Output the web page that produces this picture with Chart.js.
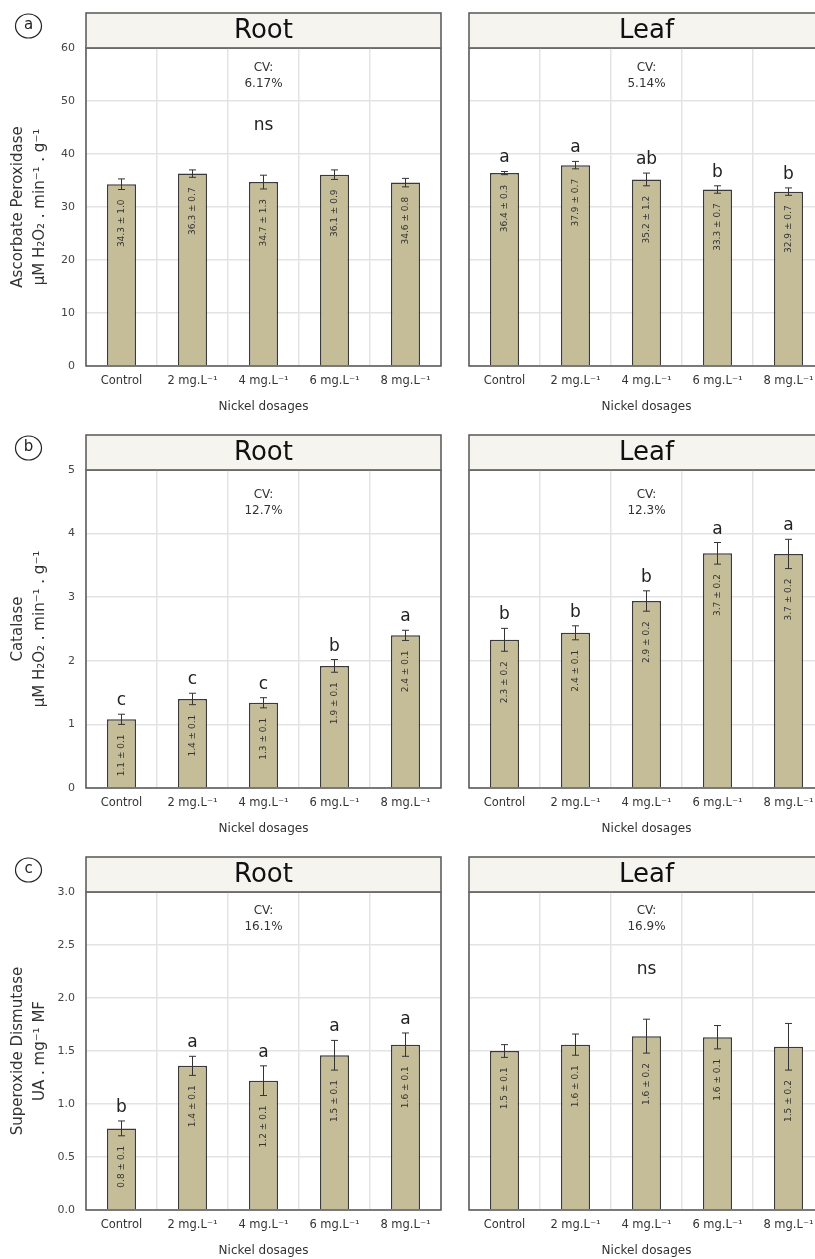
<!DOCTYPE html>
<html>
<head>
<meta charset="utf-8">
<script src="https://cdn.jsdelivr.net/npm/chart.js@4.4.1/dist/chart.umd.min.js"></script>
<style>
  html, body { margin: 0; padding: 0; background: #fff; overflow: hidden; }
  #wrap { position: relative; width: 815px; height: 1259px; overflow: hidden; background: #fff; }
  #wrap canvas { position: absolute; }
</style>
</head>
<body>
<div id="wrap"></div>
<script>
// ---- data ----
const categories = ['Control', '2 mg.L\u207B\u00B9', '4 mg.L\u207B\u00B9', '6 mg.L\u207B\u00B9', '8 mg.L\u207B\u00B9'];

// (a) Ascorbate peroxidase
const apxRootMean = [34.3, 36.3, 34.7, 36.1, 34.6];
const apxRootSd   = [1.0, 0.7, 1.3, 0.9, 0.8];
const apxLeafMean = [36.4, 37.9, 35.2, 33.3, 32.9];
const apxLeafSd   = [0.3, 0.7, 1.2, 0.7, 0.7];
const apxLeafLetters = ['a', 'a', 'ab', 'b', 'b'];
const apxCV = ['6.17%', '5.14%'];
const apxTicks = [0, 10, 20, 30, 40, 50, 60];

// (b) Catalase
const catRootMean = [1.08, 1.40, 1.34, 1.92, 2.40];
const catRootSd   = [0.08, 0.09, 0.08, 0.10, 0.08];
const catRootLetters = ['c', 'c', 'c', 'b', 'a'];
const catLeafMean = [2.33, 2.44, 2.94, 3.69, 3.68];
const catLeafSd   = [0.18, 0.11, 0.16, 0.17, 0.23];
const catLeafLetters = ['b', 'b', 'b', 'a', 'a'];
const catCV = ['12.7%', '12.3%'];
const catTicks = [0, 1, 2, 3, 4, 5];

// (c) Superoxide dismutase
const sodRootMean = [0.77, 1.36, 1.22, 1.46, 1.56];
const sodRootSd   = [0.07, 0.09, 0.14, 0.14, 0.11];
const sodRootLetters = ['b', 'a', 'a', 'a', 'a'];
const sodLeafMean = [1.50, 1.56, 1.64, 1.63, 1.54];
const sodLeafSd   = [0.06, 0.10, 0.16, 0.11, 0.22];
const sodCV = ['16.1%', '16.9%'];
const sodTicks = [0, 0.5, 1.0, 1.5, 2.0, 2.5, 3.0];

const tissues = ['Root', 'Leaf'];
const xTitle = 'Nickel dosages';
const apxTitle = ['Ascorbate Peroxidase', '\u03BCM H\u2082O\u2082 . min\u207B\u00B9 . g\u207B\u00B9'];
const catTitle = ['Catalase', '\u03BCM H\u2082O\u2082 . min\u207B\u00B9 . g\u207B\u00B9'];
const sodTitle = ['Superoxide Dismutase', 'UA . mg\u207B\u00B9 MF'];

// ---- styling ----
const FONT = "'DejaVu Sans', 'Noto Sans', sans-serif";
const BAR = '#c5bd97';
const GRID = '#e3e3e3';
const FRAME = '#555555';

// Header strip, frame, error bars, value labels, group letters and CV text
const panelDecor = {
  id: 'panelDecor',
  beforeDraw(chart, args, o) {
    const { ctx, chartArea: a } = chart;
    ctx.save();
    ctx.fillStyle = '#f5f4ef';
    ctx.fillRect(a.left, 13, a.right - a.left, a.top - 13);
    ctx.strokeStyle = FRAME;
    ctx.lineWidth = 1.5;
    ctx.strokeRect(a.left, 13, a.right - a.left, a.top - 13);
    ctx.fillStyle = '#111';
    ctx.font = `26px ${FONT}`;
    ctx.textAlign = 'center';
    ctx.textBaseline = 'middle';
    ctx.fillText(o.header, (a.left + a.right) / 2, (13 + a.top) / 2 + 1);
    if (o.tag) {
      ctx.beginPath();
      ctx.ellipse(28.5, 26, 13, 12, 0, 0, Math.PI * 2);
      ctx.lineWidth = 1.2;
      ctx.strokeStyle = '#222';
      ctx.stroke();
      ctx.font = `15px ${FONT}`;
      ctx.fillStyle = '#222';
      ctx.fillText(o.tag, 28.5, 25);
    }
    ctx.restore();
  },
  afterDatasetsDraw(chart, args, o) {
    const { ctx, chartArea: a } = chart;
    const ys = chart.scales.y;
    const meta = chart.getDatasetMeta(0);
    const mean = chart.data.datasets[0].data;
    const sd = o.sd;
    ctx.save();
    // frame
    ctx.strokeStyle = FRAME;
    ctx.lineWidth = 1.5;
    ctx.strokeRect(a.left, a.top, a.right - a.left, a.bottom - a.top);

    mean.forEach((m, i) => {
      const cx = meta.data[i].x;
      const yt = ys.getPixelForValue(m + sd[i]);
      const yb = ys.getPixelForValue(m - sd[i]);
      // error bar
      ctx.strokeStyle = '#333';
      ctx.lineWidth = 1;
      ctx.beginPath();
      ctx.moveTo(cx, yt); ctx.lineTo(cx, yb);
      ctx.moveTo(cx - 3.5, yt); ctx.lineTo(cx + 3.5, yt);
      ctx.moveTo(cx - 3.5, yb); ctx.lineTo(cx + 3.5, yb);
      ctx.stroke();
      // value label, rotated inside the bar
      ctx.save();
      ctx.translate(cx, yb + 10);
      ctx.rotate(-Math.PI / 2);
      ctx.font = `9px ${FONT}`;
      ctx.fillStyle = '#333';
      ctx.textAlign = 'right';
      ctx.textBaseline = 'middle';
      ctx.fillText(m.toFixed(1) + ' \u00B1 ' + sd[i].toFixed(1), 0, 0);
      ctx.restore();
      // significance letter
      if (o.letters) {
        ctx.font = `17px ${FONT}`;
        ctx.fillStyle = '#222';
        ctx.textAlign = 'center';
        ctx.textBaseline = 'alphabetic';
        ctx.fillText(o.letters[i], cx, yt - 9);
      }
    });

    const mid = (a.left + a.right) / 2;
    ctx.font = `12px ${FONT}`;
    ctx.fillStyle = '#333';
    ctx.textAlign = 'center';
    ctx.textBaseline = 'middle';
    ctx.fillText('CV:', mid, o.cvY);
    ctx.fillText(o.cv, mid, o.cvY + 16);
    if (o.ns) {
      ctx.font = `17px ${FONT}`;
      ctx.fillStyle = '#222';
      ctx.fillText('ns', mid, 126);
    }
    ctx.restore();
  }
};

const wrap = document.getElementById('wrap');

function makePanel(p) {
  const H = 422;
  const c = document.createElement('canvas');
  c.width = p.w; c.height = H;
  c.style.left = p.x + 'px'; c.style.top = p.y + 'px';
  c.style.width = p.w + 'px'; c.style.height = H + 'px';
  wrap.appendChild(c);
  const isRoot = p.root;
  const ticks = p.ticks;
  new Chart(c, {
    type: 'bar',
    data: {
      labels: categories,
      datasets: [{
        data: p.mean,
        backgroundColor: BAR,
        borderColor: '#3a3a3a',
        borderWidth: 1.5,
        barPercentage: 0.41,
        categoryPercentage: 1
      }]
    },
    options: {
      responsive: false,
      animation: false,
      devicePixelRatio: 1,
      layout: { padding: { left: 0, right: 14, top: 48, bottom: 0 } },
      plugins: {
        legend: { display: false },
        tooltip: { enabled: false },
        panelDecor: {
          header: p.header, tag: p.tag, sd: p.sd, letters: p.letters,
          cv: p.cv, cvY: p.cvY, ns: p.ns
        }
      },
      scales: {
        x: {
          grid: { color: GRID, lineWidth: 1.5, drawTicks: false, offset: true },
          border: { display: false },
          ticks: { font: { family: FONT, size: 11.5 }, color: '#333', padding: 8, maxRotation: 0, autoSkip: false },
          title: { display: true, text: xTitle, font: { family: FONT, size: 12 }, color: '#333', padding: { top: 0, bottom: 8 } },
          afterFit(s) { s.height = H - 366; }
        },
        y: {
          min: ticks[0],
          max: ticks[ticks.length - 1],
          afterBuildTicks(s) { s.ticks = ticks.map(v => ({ value: v })); },
          grid: { color: GRID, lineWidth: 1.5, drawTicks: false },
          border: { display: false },
          ticks: {
            display: isRoot,
            padding: 11,
            font: { family: FONT, size: 11 },
            color: '#444',
            callback: v => (p.decimals ? Number(v).toFixed(p.decimals) : String(v))
          },
          title: {
            display: isRoot,
            text: p.yTitle,
            font: { family: FONT, size: 15, lineHeight: 22 / 15 },
            color: '#333',
            padding: { top: 7, bottom: 0 }
          },
          afterFit(s) { s.width = isRoot ? 86 : 14; }
        }
      }
    },
    plugins: [panelDecor]
  });
}

const rows = [
  { y: 0,   tag: 'a', ticks: apxTicks, decimals: 0, yTitle: apxTitle, cv: apxCV, cvY: 68,
    root: { mean: apxRootMean, sd: apxRootSd, letters: null, ns: true },
    leaf: { mean: apxLeafMean, sd: apxLeafSd, letters: apxLeafLetters, ns: false } },
  { y: 422, tag: 'b', ticks: catTicks, decimals: 0, yTitle: catTitle, cv: catCV, cvY: 73,
    root: { mean: catRootMean, sd: catRootSd, letters: catRootLetters, ns: false },
    leaf: { mean: catLeafMean, sd: catLeafSd, letters: catLeafLetters, ns: false } },
  { y: 844, tag: 'c', ticks: sodTicks, decimals: 1, yTitle: sodTitle, cv: sodCV, cvY: 67,
    root: { mean: sodRootMean, sd: sodRootSd, letters: sodRootLetters, ns: false },
    leaf: { mean: sodLeafMean, sd: sodLeafSd, letters: null, ns: true } }
];

rows.forEach(r => {
  makePanel({ x: 0, y: r.y, w: 455, root: true, header: tissues[0], tag: r.tag, ticks: r.ticks,
    decimals: r.decimals, yTitle: r.yTitle, cv: r.cv[0], cvY: r.cvY, ...r.root });
  makePanel({ x: 455, y: r.y, w: 383, root: false, header: tissues[1], tag: null, ticks: r.ticks,
    decimals: r.decimals, yTitle: r.yTitle, cv: r.cv[1], cvY: r.cvY, ...r.leaf });
});
</script>
</body>
</html>
